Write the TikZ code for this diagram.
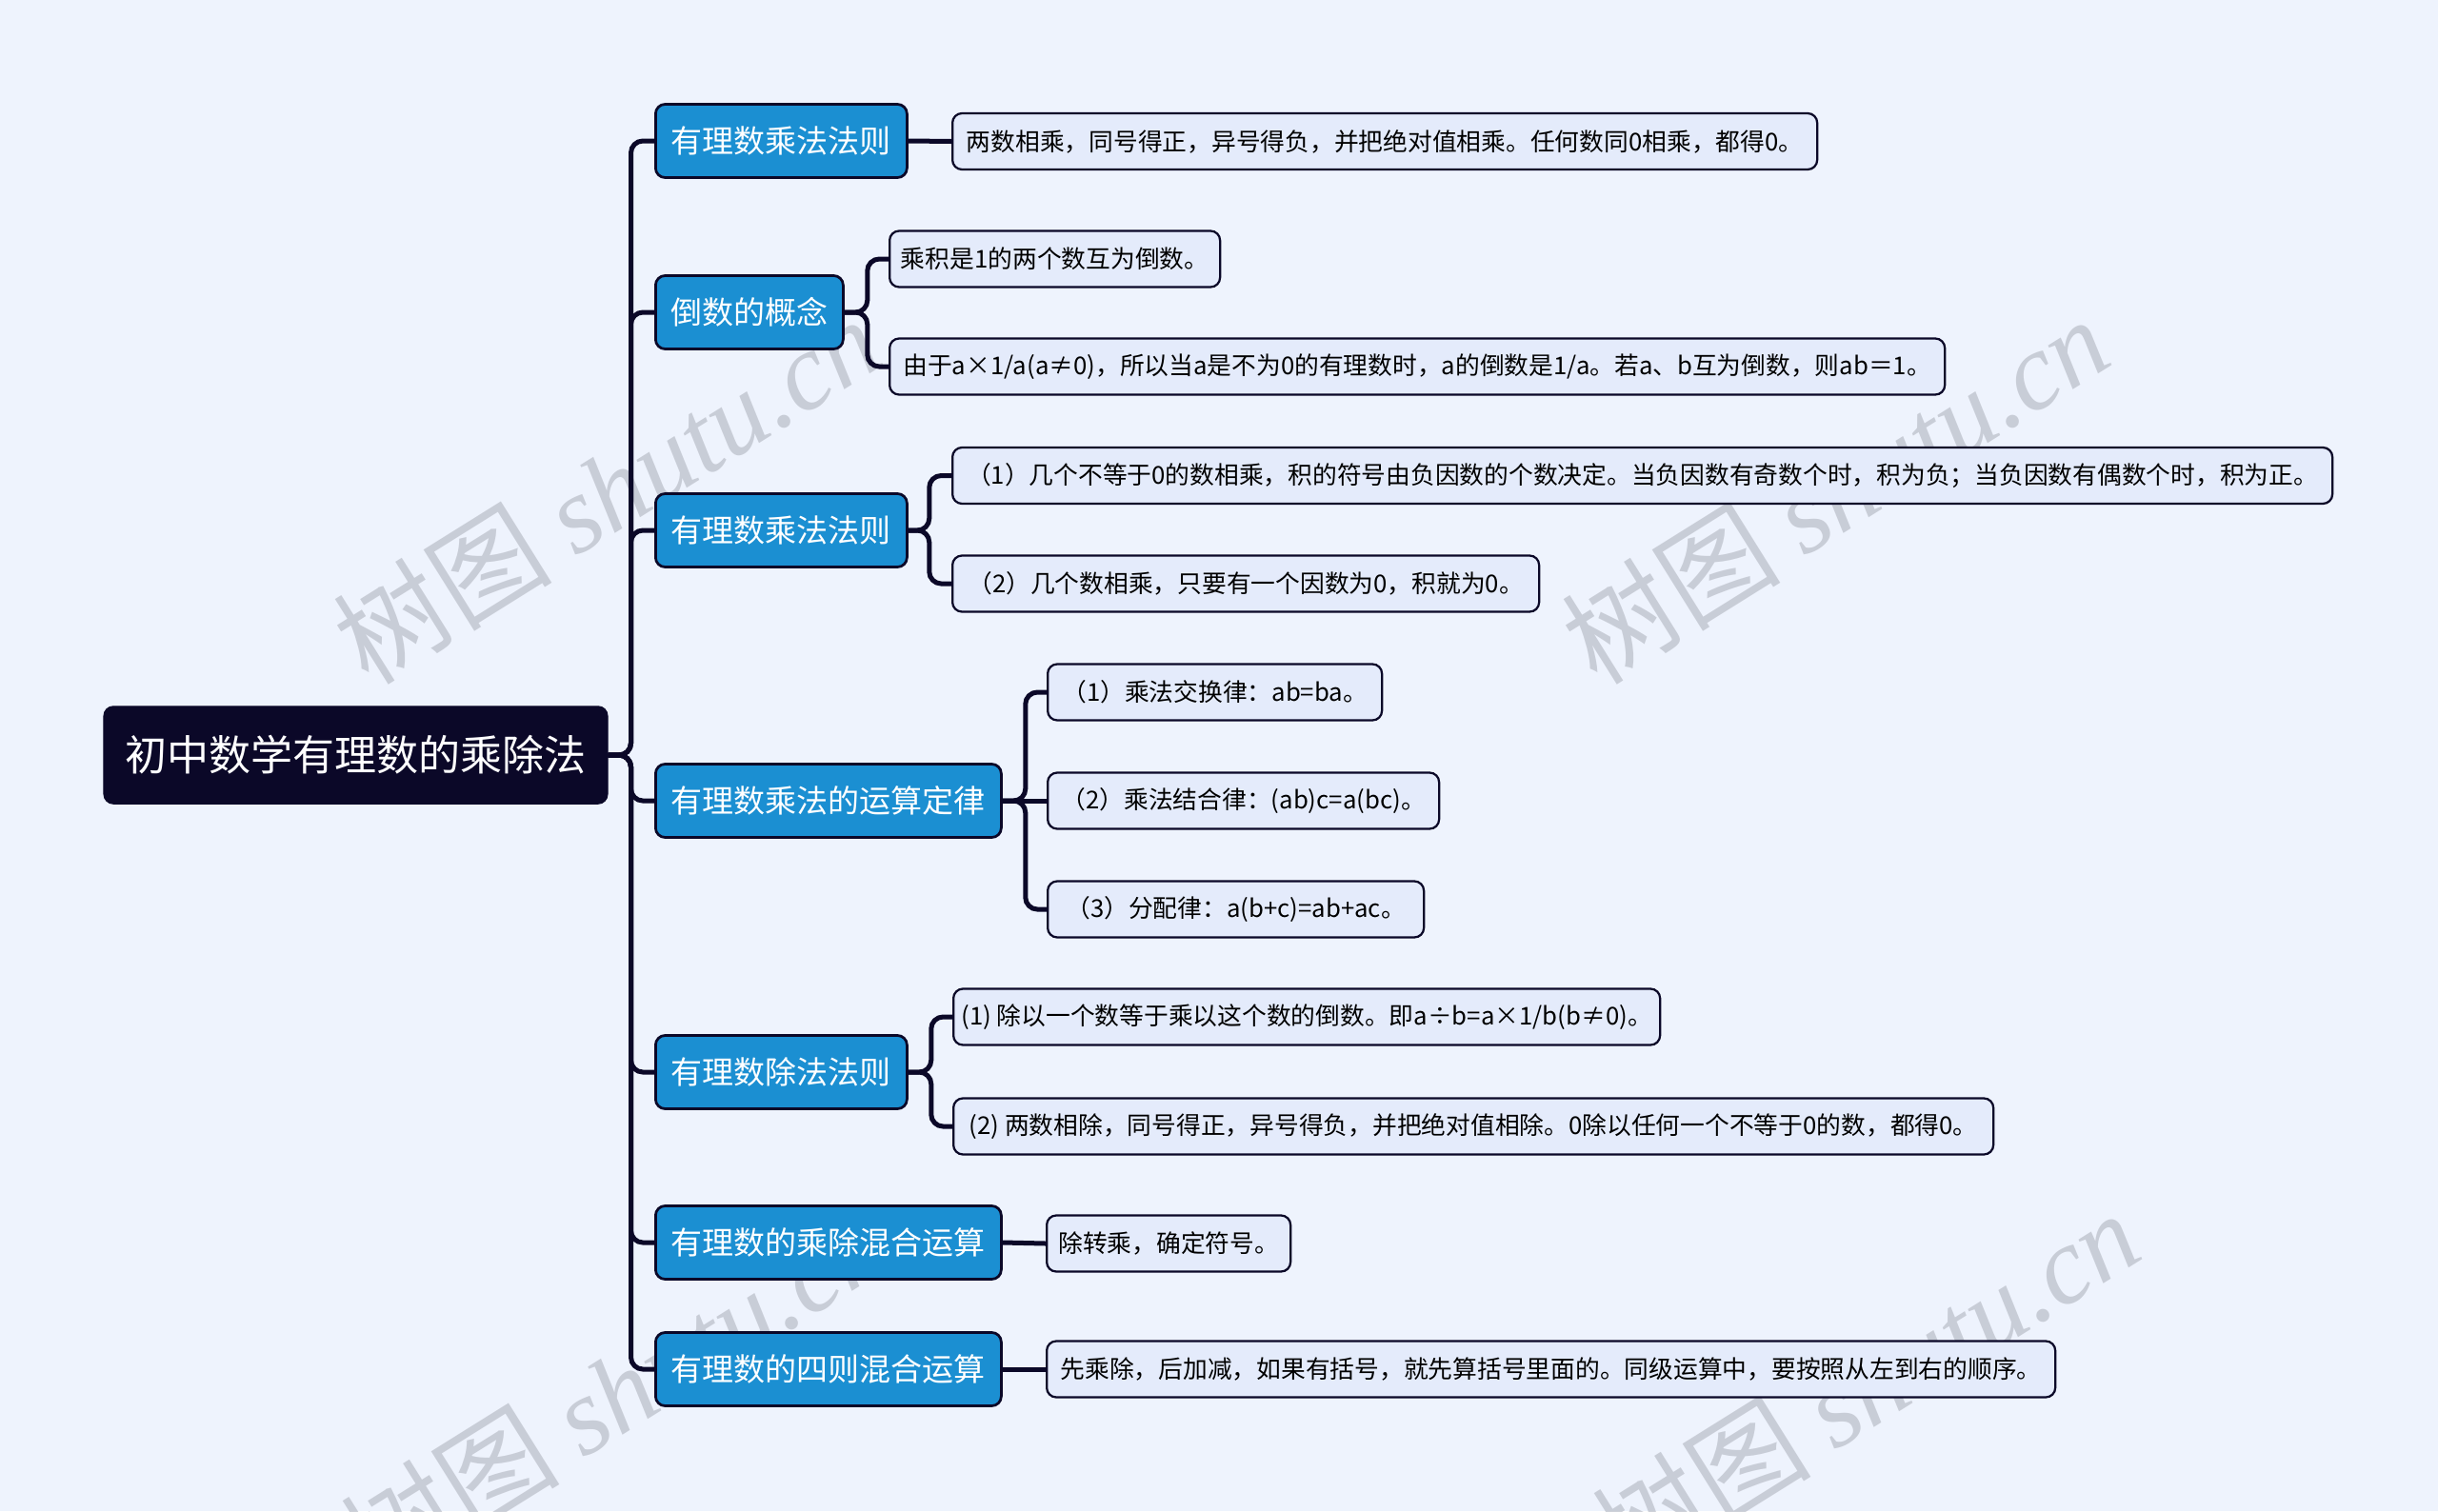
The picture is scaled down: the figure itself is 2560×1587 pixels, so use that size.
\documentclass[tikz,border=0pt]{standalone}
\usepackage{fontspec}
\setmainfont{Noto Sans CJK SC}
\newfontfamily\wmlatin{Liberation Serif}
\usetikzlibrary{positioning}
\definecolor{bgblue}{HTML}{EEF3FD}
\definecolor{rootnavy}{HTML}{0B0828}
\definecolor{topicblue}{HTML}{1B8FD2}
\definecolor{leafblue}{HTML}{E4EBFB}
\definecolor{wmgray}{HTML}{B9BDC7}

\tikzset{
  rootbox/.style={draw=rootnavy,fill=rootnavy,text=white,rounded corners=4pt,
    font=\fontsize{17.6}{20}\selectfont,minimum height=41pt},
  topicbox/.style={draw=rootnavy,line width=1.1pt,fill=topicblue,text=white,rounded corners=4pt,
    font=\fontsize{13.2}{16}\selectfont,minimum height=30.8pt,anchor=west},
  leafbox/.style={draw=rootnavy,line width=0.9pt,fill=leafblue,rounded corners=4pt,
    font=\fontsize{10.3}{12}\selectfont,minimum height=23.6pt,anchor=west},
  link/.style={draw=rootnavy,line width=2pt,rounded corners=5pt},
  wmark/.style={text=wmgray,opacity=0.7,rotate=32,font=\fontsize{46}{46}\selectfont},
}

\begin{document}
\begin{tikzpicture}[x=0.4pt,y=-0.4pt]
\fill[bgblue] (0,0) rectangle (2560,1587);
\useasboundingbox (0,0) rectangle (2560,1587);

% watermarks
\node[wmark] (wm1) at (637,514) {树图 {\wmlatin\itshape shutu.cn}};
\node[wmark] (wm2) at (1927,514) {树图 {\wmlatin\itshape shutu.cn}};
\node[wmark] (wm3) at (645,1461) {树图 {\wmlatin\itshape shutu.cn}};
\node[wmark] (wm4) at (1959,1453) {树图 {\wmlatin\itshape shutu.cn}};

% root and main topics
\node[rootbox,minimum width=211.6pt] (root) at (373.5,793) {初中数学有理数的乘除法};
\node[topicbox,minimum width=105.6pt] (t1) at (687,148) {有理数乘法法则};
\node[topicbox,minimum width=78.8pt] (t2) at (687,328) {倒数的概念};
\node[topicbox,minimum width=105.6pt] (t3) at (687,557) {有理数乘法法则};
\node[topicbox,minimum width=145.2pt] (t4) at (687,841) {有理数乘法的运算定律};
\node[topicbox,minimum width=105.6pt] (t5) at (687,1126) {有理数除法法则};
\node[topicbox,minimum width=145.2pt] (t6) at (687,1305) {有理数的乘除混合运算};
\node[topicbox,minimum width=145.2pt] (t7) at (687,1438) {有理数的四则混合运算};

% leaves
\node[leafbox,minimum width=363.2pt] (l1) at (999,148.5) {两数相乘，同号得正，异号得负，并把绝对值相乘。任何数同0相乘，都得0。};
\node[leafbox,minimum width=138.8pt] (l2a) at (933,272) {乘积是1的两个数互为倒数。};
\node[leafbox,minimum width=443.2pt] (l2b) at (933,385) {由于a×1/a(a≠0)，所以当a是不为0的有理数时，a的倒数是1/a。若a、b互为倒数，则ab＝1。};
\node[leafbox,minimum width=579.6pt] (l3a) at (999,499.5) {（1）几个不等于0的数相乘，积的符号由负因数的个数决定。当负因数有奇数个时，积为负；当负因数有偶数个时，积为正。};
\node[leafbox,minimum width=246.4pt] (l3b) at (999,613) {（2）几个数相乘，只要有一个因数为0，积就为0。};
\node[leafbox,minimum width=140.4pt] (l4a) at (1099,727) {（1）乘法交换律：ab=ba。};
\node[leafbox,minimum width=164.4pt] (l4b) at (1099,841) {（2）乘法结合律：(ab)c=a(bc)。};
\node[leafbox,minimum width=158pt] (l4c) at (1099,955) {（3）分配律：a(b+c)=ab+ac。};
\node[leafbox,minimum width=296.8pt] (l5a) at (1000,1068) {(1) 除以一个数等于乘以这个数的倒数。即a÷b=a×1/b(b≠0)。};
\node[leafbox,minimum width=436.8pt] (l5b) at (1000,1183) {(2) 两数相除，同号得正，异号得负，并把绝对值相除。0除以任何一个不等于0的数，都得0。};
\node[leafbox,minimum width=102.4pt] (l6) at (1098,1306) {除转乘，确定符号。};
\node[leafbox,minimum width=423.6pt] (l7) at (1098,1438) {先乘除，后加减，如果有括号，就先算括号里面的。同级运算中，要按照从左到右的顺序。};

% connectors
\foreach \t in {t1,t2,t3,t4,t5,t6,t7}
  \draw[link] (root.east) -- ++(24,0) |- (\t.west);
\draw[link] (t1.east) -- (l1.west);
\draw[link] (t2.east) -- ++(24,0) |- (l2a.west);
\draw[link] (t2.east) -- ++(24,0) |- (l2b.west);
\draw[link] (t3.east) -- ++(22,0) |- (l3a.west);
\draw[link] (t3.east) -- ++(22,0) |- (l3b.west);
\draw[link] (t4.east) -- ++(24,0) |- (l4a.west);
\draw[link] (t4.east) -- (l4b.west);
\draw[link] (t4.east) -- ++(24,0) |- (l4c.west);
\draw[link] (t5.east) -- ++(24,0) |- (l5a.west);
\draw[link] (t5.east) -- ++(24,0) |- (l5b.west);
\draw[link] (t6.east) -- (l6.west);
\draw[link] (t7.east) -- (l7.west);
\end{tikzpicture}
\end{document}
